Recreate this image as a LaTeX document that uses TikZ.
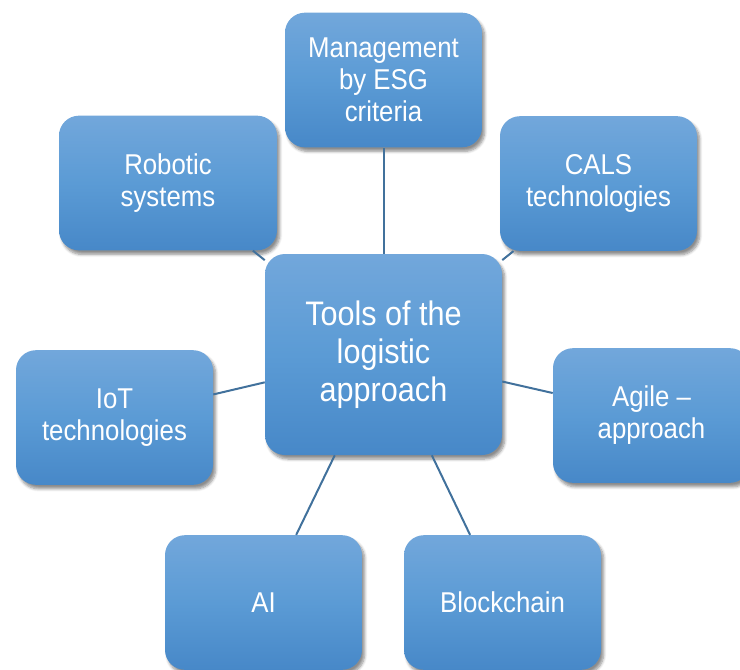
\documentclass[tikz,border=0pt]{standalone}
\usepackage{fontspec}
\setmainfont{Liberation Sans}
\newfontfamily\narrowsans[FakeStretch=0.9]{Liberation Sans}
\usepackage{tikz}
\usetikzlibrary{shadows.blur}
\definecolor{boxtop}{HTML}{72A7DB}
\definecolor{boxmid}{HTML}{5B9BD5}
\definecolor{boxbot}{HTML}{4788C8}
\definecolor{linkblue}{HTML}{41719C}

\begin{document}
\begin{tikzpicture}[x=0.75pt, y=-0.75pt,
  tool/.style = {rounded corners=15pt, inner sep=0pt, align=center,
    top color=boxtop, bottom color=boxbot, middle color=boxmid,
    minimum width=147.75pt, minimum height=101pt, text=white,
    font=\narrowsans\fontsize{21.5}{24}\selectfont,
    blur shadow={shadow xshift=2pt, shadow yshift=-3pt, shadow blur steps=6, shadow opacity=45}},
  hub/.style = {tool, minimum width=177.75pt, minimum height=150.75pt,
    font=\narrowsans\fontsize{25.5}{28.5}\selectfont},
  link/.style = {draw=linkblue, line width=1.5pt}]
\useasboundingbox (0,0) rectangle (740,669);
\node[hub] (hub) at (383.5,354.5) {Tools of the\\logistic\\approach};
\node[tool] (esg) at (383.5,80) {Management\\by ESG\\criteria};
\node[tool, minimum width=163.5pt] (robot) at (168,183) {Robotic\\systems};
\node[tool] (cals) at (598.5,183.5) {CALS\\technologies};
\node[tool] (iot) at (114.5,417.5) {IoT\\technologies};
\node[tool] (agile) at (651.5,415.5) {Agile –\\approach};
\node[tool] (ai) at (263.5,602.5) {AI};
\node[tool] (chain) at (502.5,602.5) {Blockchain};
\draw[link] (hub) -- (esg);
\draw[link] (hub) -- (robot);
\draw[link] (hub) -- (cals);
\draw[link] (hub) -- (iot);
\draw[link] (hub) -- (agile);
\draw[link] (hub) -- (ai);
\draw[link] (hub) -- (chain);
\end{tikzpicture}
\end{document}
